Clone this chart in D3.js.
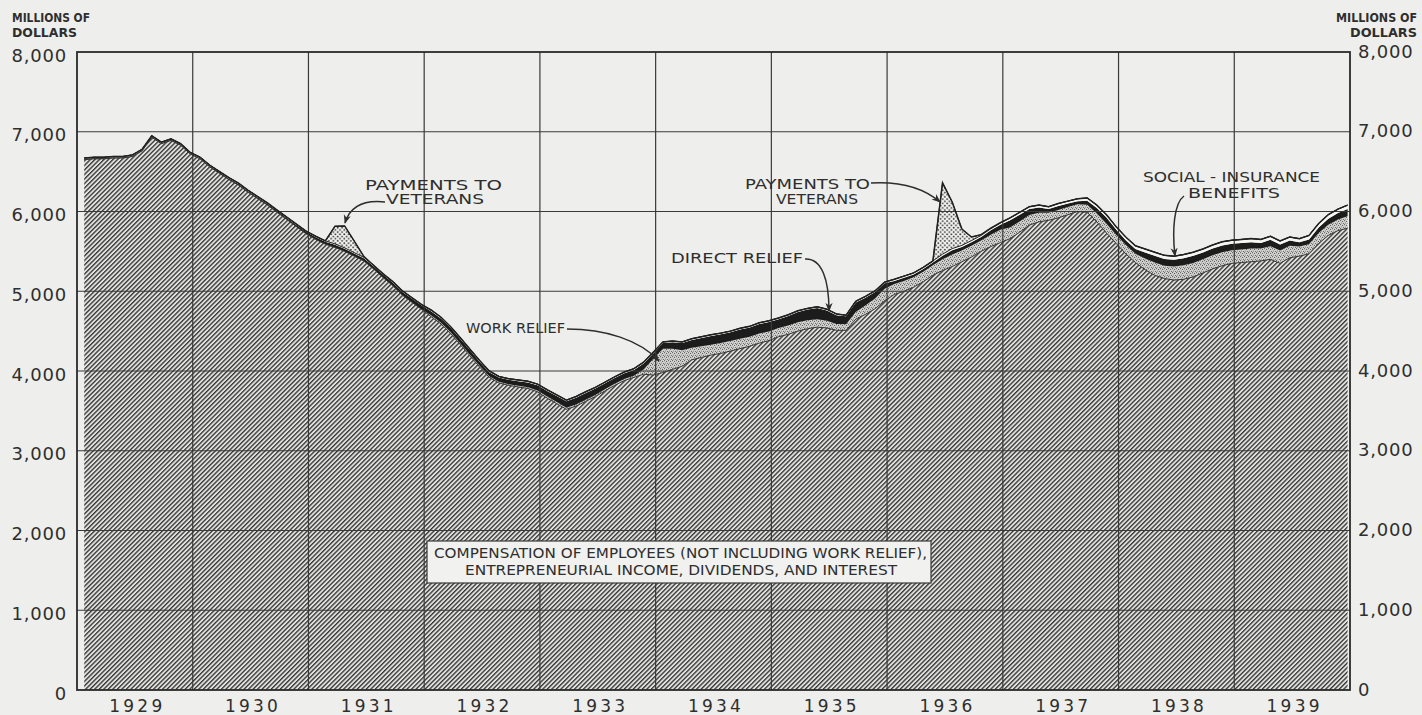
<!DOCTYPE html>
<html>
<head>
<meta charset="utf-8">
<script src="https://cdn.jsdelivr.net/npm/d3@7"></script>
<style>
body { margin: 0; background: #eeeeec; }
svg { display: block; font-family: "DejaVu Sans", sans-serif; }
</style>
</head>
<body>
<script>
// monthly income payments, millions of dollars, Jan 1929 - Dec 1939
var years = [1929, 1930, 1931, 1932, 1933, 1934, 1935, 1936, 1937, 1938, 1939];
var yTicks = [0, 1000, 2000, 3000, 4000, 5000, 6000, 7000, 8000];

// compensation of employees, entrepreneurial income, dividends and interest
var base = [
  6650, 6660, 6660, 6670, 6670, 6690, 6760, 6930, 6850, 6890, 6830, 6720,
  6660, 6560, 6480, 6400, 6330, 6240, 6160, 6080, 5990, 5900, 5810, 5720,
  5650, 5590, 5550, 5500, 5440, 5380, 5280, 5170, 5070, 4950, 4860, 4770,
  4680, 4590, 4470, 4330, 4190, 4050, 3920, 3850, 3820, 3800, 3780, 3740,
  3660, 3590, 3520, 3560, 3620, 3680, 3750, 3820, 3880, 3920, 3960, 3950,
  3980, 4020, 4060, 4140, 4170, 4200, 4220, 4250, 4280, 4310, 4350, 4380,
  4430, 4460, 4500, 4530, 4550, 4540, 4510, 4510, 4650, 4710, 4780, 4880,
  4960, 5000, 5050, 5120, 5200, 5260, 5310, 5370, 5430, 5500, 5560, 5610,
  5660, 5740, 5830, 5870, 5890, 5920, 5960, 6000, 5990, 5870, 5730, 5600,
  5470, 5360, 5270, 5200, 5160, 5140, 5150, 5180, 5230, 5280, 5320, 5350,
  5360, 5370, 5380, 5400, 5350, 5420, 5440, 5470, 5600, 5700, 5760, 5790
];
var workRelief = [
  0, 0, 0, 0, 0, 0, 0, 0, 0, 0, 0, 0,
  0, 0, 0, 0, 0, 0, 0, 0, 0, 0, 0, 0,
  0, 0, 0, 0, 0, 0, 0, 0, 0, 0, 0, 0,
  15, 15, 15, 15, 15, 15, 15, 15, 15, 15, 15, 15,
  20, 20, 20, 20, 20, 20, 20, 20, 20, 20, 60, 200,
  300, 260, 200, 150, 140, 130, 130, 125, 125, 120, 120, 115,
  110, 110, 110, 105, 100, 90, 80, 75, 90, 110, 130, 150,
  130, 130, 125, 125, 125, 140, 150, 140, 140, 135, 150, 160,
  140, 135, 125, 115, 95, 100, 95, 90, 95, 105, 115, 110,
  110, 110, 140, 160, 160, 170, 175, 175, 170, 170, 170, 165,
  165, 165, 155, 165, 160, 150, 120, 120, 130, 135, 140, 150
];
var directRelief = [
  10, 10, 10, 10, 10, 10, 10, 10, 10, 10, 10, 10,
  12, 13, 14, 15, 15, 15, 16, 17, 18, 20, 22, 25,
  28, 30, 32, 32, 32, 33, 34, 36, 38, 42, 46, 50,
  52, 54, 56, 56, 54, 52, 50, 52, 54, 58, 62, 66,
  70, 75, 80, 85, 85, 80, 75, 72, 72, 74, 75, 70,
  70, 80, 90, 100, 105, 110, 110, 110, 115, 115, 120, 120,
  110, 120, 130, 135, 140, 130, 110, 100, 120, 100, 80, 70,
  40, 40, 35, 35, 35, 45, 55, 45, 45, 45, 55, 65,
  90, 85, 75, 65, 45, 50, 45, 40, 50, 70, 80, 65,
  60, 60, 75, 85, 85, 85, 90, 90, 85, 85, 85, 80,
  80, 80, 70, 80, 75, 65, 55, 60, 70, 75, 80, 90
];
var socialInsurance = [
  10, 10, 10, 10, 10, 10, 10, 10, 10, 10, 10, 10,
  10, 10, 10, 10, 10, 10, 10, 10, 10, 10, 10, 10,
  12, 12, 12, 12, 12, 12, 12, 12, 12, 12, 12, 12,
  15, 15, 15, 15, 15, 15, 15, 15, 15, 15, 15, 15,
  15, 15, 15, 15, 15, 15, 15, 15, 15, 15, 15, 15,
  15, 15, 15, 15, 15, 15, 15, 15, 15, 15, 15, 15,
  15, 15, 15, 15, 15, 15, 15, 15, 15, 15, 15, 15,
  20, 20, 20, 20, 20, 20, 20, 20, 20, 20, 20, 20,
  30, 30, 30, 30, 30, 30, 30, 30, 35, 35, 35, 35,
  40, 40, 45, 45, 45, 45, 45, 45, 45, 45, 45, 45,
  45, 45, 45, 45, 45, 45, 45, 50, 50, 50, 50, 50
];
var veterans = [
  0, 0, 0, 0, 0, 0, 0, 0, 0, 0, 0, 0,
  0, 0, 0, 0, 0, 0, 0, 0, 0, 0, 0, 0,
  0, 0, 220, 275, 145, 10, 0, 0, 0, 0, 0, 0,
  0, 0, 0, 0, 0, 0, 0, 0, 0, 0, 0, 0,
  0, 0, 0, 0, 0, 0, 0, 0, 0, 0, 0, 0,
  0, 0, 0, 0, 0, 0, 0, 0, 0, 0, 0, 0,
  0, 0, 0, 0, 0, 0, 0, 0, 0, 0, 0, 0,
  0, 0, 0, 0, 0, 895, 585, 205, 45, 10, 5, 5,
  0, 0, 0, 0, 0, 0, 0, 0, 0, 0, 0, 0,
  0, 0, 0, 0, 0, 0, 0, 0, 0, 0, 0, 0,
  0, 0, 0, 0, 0, 0, 0, 0, 0, 0, 0, 0
];

var W = 1422, H = 715;
var plotL = 77, plotR = 1350, plotT = 52, plotB = 690;
var ink = '#2e2e2e';

var svg = d3.select('body').append('svg')
  .attr('width', W)
  .attr('height', H);

var defs = svg.append('defs');

// diagonal hatch for the big base area
var hatch = defs.append('pattern')
  .attr('id', 'hatch')
  .attr('patternUnits', 'userSpaceOnUse')
  .attr('width', 3.2).attr('height', 3.2)
  .attr('patternTransform', 'rotate(45)');
hatch.append('rect').attr('width', 3.2).attr('height', 3.2).attr('fill', '#e2e2e0');
hatch.append('rect').attr('width', 1.35).attr('height', 3.2).attr('fill', '#363636');

// fine stipple for work relief
var stip = defs.append('pattern')
  .attr('id', 'stipple')
  .attr('patternUnits', 'userSpaceOnUse')
  .attr('width', 4).attr('height', 4);
stip.append('rect').attr('width', 4).attr('height', 4).attr('fill', '#dadad8');
[[0.6, 0.7], [2.6, 1.4], [1.3, 3.0], [3.4, 3.3]].forEach(function(p){
  stip.append('circle').attr('cx', p[0]).attr('cy', p[1]).attr('r', 0.6).attr('fill', '#555');
});

// coarse dots for veterans payments
var dots = defs.append('pattern')
  .attr('id', 'dots')
  .attr('patternUnits', 'userSpaceOnUse')
  .attr('width', 4.4).attr('height', 4.4);
dots.append('rect').attr('width', 4.4).attr('height', 4.4).attr('fill', '#f3f3f1');
dots.append('circle').attr('cx', 1.1).attr('cy', 1.1).attr('r', 0.95).attr('fill', '#3a3a3a');
dots.append('circle').attr('cx', 3.3).attr('cy', 3.3).attr('r', 0.95).attr('fill', '#3a3a3a');

defs.append('marker')
  .attr('id', 'arrow')
  .attr('viewBox', '0 0 10 10')
  .attr('refX', 9).attr('refY', 5)
  .attr('markerWidth', 9).attr('markerHeight', 9)
  .attr('markerUnits', 'userSpaceOnUse')
  .attr('orient', 'auto')
  .append('path')
  .attr('d', 'M0,1 L10,5 L0,9 L3,5 Z')
  .attr('fill', ink);

var x = d3.scaleLinear().domain([0, base.length]).range([plotL, plotR]);
var y = d3.scaleLinear().domain([0, 8000]).range([plotB, plotT]);

var table = base.map(function(v, i){
  return {
    i: i,
    base: v,
    work: workRelief[i],
    direct: directRelief[i],
    social: socialInsurance[i],
    vets: veterans[i]
  };
});
var keys = ['base', 'work', 'direct', 'social', 'vets'];
var fills = {
  base: 'url(#hatch)',
  work: 'url(#stipple)',
  direct: '#1c1c1c',
  social: '#f6f6f4',
  vets: 'url(#dots)'
};
var series = d3.stack().keys(keys)(table);

var mx = function(d){ return x(d.data.i + 0.75); };
var area = d3.area()
  .x(mx)
  .y0(function(d){ return y(d[0]); })
  .y1(function(d){ return y(d[1]); });

svg.append('g').selectAll('path')
  .data(series)
  .enter().append('path')
  .attr('d', area)
  .attr('fill', function(s){ return fills[s.key]; });

// grid lines
var grid = svg.append('g').attr('stroke', '#3a3a3a').attr('stroke-width', 1.2);
grid.selectAll('.h')
  .data(yTicks.filter(function(t){ return t > 0 && t < 8000; }))
  .enter().append('line')
  .attr('x1', plotL).attr('x2', plotR)
  .attr('y1', function(d){ return y(d); })
  .attr('y2', function(d){ return y(d); });
grid.selectAll('.v')
  .data(years.slice(1))
  .enter().append('line')
  .attr('x1', function(d, k){ return x((k + 1) * 12); })
  .attr('x2', function(d, k){ return x((k + 1) * 12); })
  .attr('y1', plotT).attr('y2', plotB);

// outlines of the base and of the total
svg.append('path')
  .datum(series[0])
  .attr('d', d3.line().x(mx).y(function(d){ return y(d[1]); }))
  .attr('fill', 'none').attr('stroke', '#333').attr('stroke-width', 1);
svg.append('path')
  .datum(series[4])
  .attr('d', d3.line().x(mx).y(function(d){ return y(d[1]); }))
  .attr('fill', 'none').attr('stroke', '#222').attr('stroke-width', 1.5);
svg.append('path')
  .datum(series[4])
  .attr('d', area)
  .attr('fill', 'none').attr('stroke', '#222').attr('stroke-width', 1);

// frame
svg.append('rect')
  .attr('x', plotL).attr('y', plotT)
  .attr('width', plotR - plotL).attr('height', plotB - plotT)
  .attr('fill', 'none').attr('stroke', '#2a2a2a').attr('stroke-width', 1.8);

// axes
var fmt = d3.format(',');
var la = svg.append('g')
  .attr('transform', 'translate(' + plotL + ',0)')
  .call(d3.axisLeft(y).tickValues(yTicks).tickFormat(fmt).tickSize(0).tickPadding(10));
var ra = svg.append('g')
  .attr('transform', 'translate(' + plotR + ',0)')
  .call(d3.axisRight(y).tickValues(yTicks).tickFormat(fmt).tickSize(0).tickPadding(8));
var ba = svg.append('g')
  .attr('transform', 'translate(0,' + plotB + ')')
  .call(d3.axisBottom(x)
    .tickValues(years.map(function(d, k){ return k * 12 + 6; }))
    .tickFormat(function(d, k){ return years[k]; })
    .tickSize(0).tickPadding(10));
[la, ra, ba].forEach(function(g){
  g.select('.domain').remove();
  g.attr('font-family', '"DejaVu Sans", sans-serif').attr('font-size', 18);
  g.selectAll('text').attr('fill', ink);
});
la.selectAll('text').attr('dy', '0.5em').attr('letter-spacing', 0.8);
ra.selectAll('text').attr('dy', '0.28em').attr('letter-spacing', 0.8);
ba.selectAll('text').attr('letter-spacing', 3.2).attr('dx', 2).attr('font-size', 17);

// texts
var txt = function(s, tx, ty, opt){
  opt = opt || {};
  var t = svg.append('text')
    .attr('x', tx).attr('y', ty)
    .attr('fill', ink)
    .attr('font-size', opt.size || 14)
    .attr('font-weight', opt.weight || 'normal')
    .text(s);
  if (opt.len) t.attr('textLength', opt.len).attr('lengthAdjust', 'spacingAndGlyphs');
  return t;
};
txt('MILLIONS OF', 12, 22, {size: 11.5, weight: 'bold', len: 78});
txt('DOLLARS', 12, 37, {size: 11.5, weight: 'bold', len: 65});
txt('MILLIONS OF', 1336, 22, {size: 11.5, weight: 'bold', len: 81});
txt('DOLLARS', 1350, 37, {size: 11.5, weight: 'bold', len: 67});

// annotations
txt('PAYMENTS TO', 365, 190, {len: 137});
txt('VETERANS', 386, 204, {len: 98});
txt('WORK RELIEF', 466, 333, {len: 99});
txt('DIRECT RELIEF', 671, 263, {len: 132});
txt('PAYMENTS TO', 745, 189, {len: 125});
txt('VETERANS', 776, 204, {len: 82});
txt('SOCIAL - INSURANCE', 1143, 182, {len: 177});
txt('BENEFITS', 1188, 198, {len: 92});

var arrows = [
  'M385,202 C365,200 350,206 345,223',
  'M567,329 C605,329 640,340 659,361',
  'M805,259 C822,258 829,280 829,311',
  'M871,183 C905,181 926,190 940,202',
  'M1184,196 C1174,203 1172,230 1175,256'
];
svg.append('g').selectAll('path')
  .data(arrows)
  .enter().append('path')
  .attr('d', function(d){ return d; })
  .attr('fill', 'none')
  .attr('stroke', ink)
  .attr('stroke-width', 1.5)
  .attr('marker-end', 'url(#arrow)');

// label box over the base area
svg.append('rect')
  .attr('x', 427).attr('y', 541)
  .attr('width', 504).attr('height', 42)
  .attr('fill', '#f1f1ef')
  .attr('stroke', '#3a3a3a').attr('stroke-width', 1.2);
txt('COMPENSATION OF EMPLOYEES (NOT INCLUDING WORK RELIEF),', 434, 558, {size: 14.5, len: 493});
txt('ENTREPRENEURIAL INCOME, DIVIDENDS, AND INTEREST', 465, 575, {size: 14.5, len: 432});
</script>
</body>
</html>
